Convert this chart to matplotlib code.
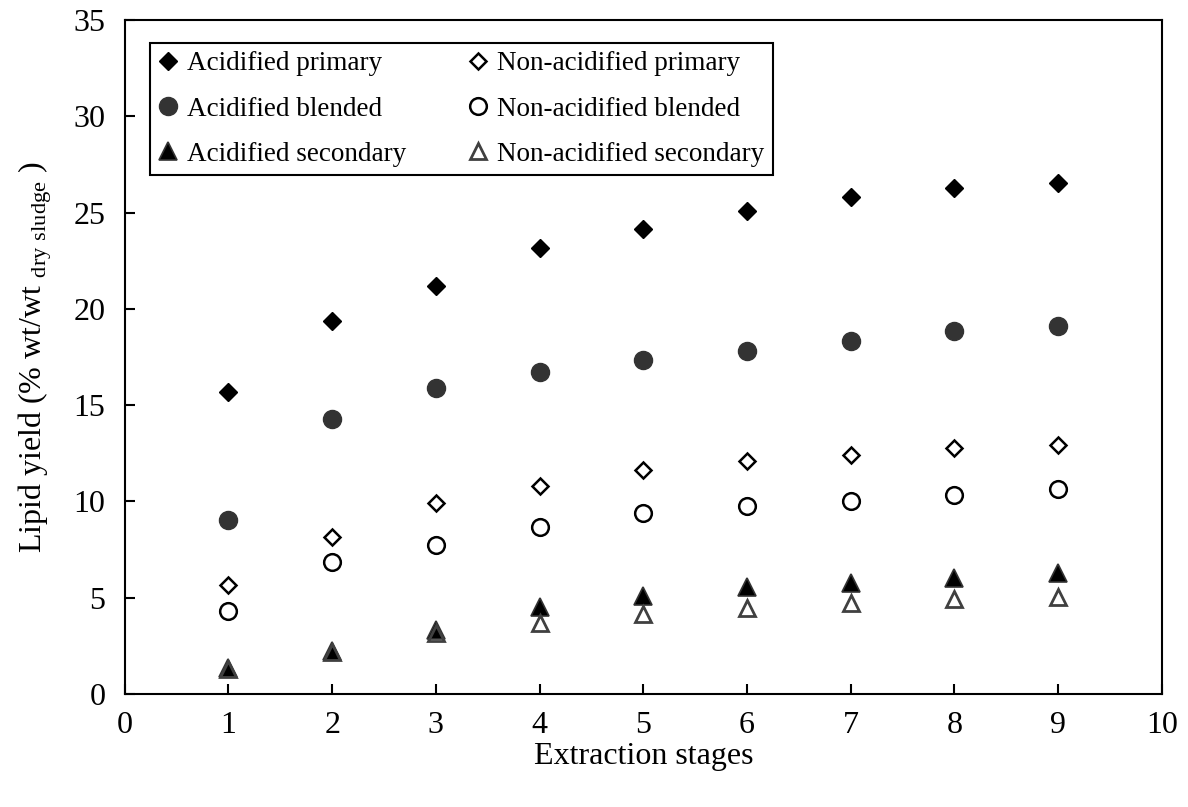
import numpy as np
import matplotlib
matplotlib.use("Agg")
import matplotlib.pyplot as plt

plt.rcParams["font.family"] = ["Liberation Serif", "DejaVu Serif"]
plt.rcParams["mathtext.fontset"] = "custom"
plt.rcParams["mathtext.rm"] = "Liberation Serif"

stages = [1, 2, 3, 4, 5, 6, 7, 8, 9]

acid_primary = [15.7, 19.4, 21.2, 23.15, 24.15, 25.1, 25.8, 26.3, 26.55]
acid_blended = [9.03, 14.27, 15.92, 16.72, 17.36, 17.83, 18.34, 18.83, 19.09]
acid_secondary = [1.35, 2.26, 3.33, 4.54, 5.09, 5.58, 5.78, 6.01, 6.27]
nonacid_primary = [5.66, 8.17, 9.9, 10.79, 11.62, 12.09, 12.43, 12.78, 12.95]
nonacid_blended = [4.33, 6.87, 7.74, 8.68, 9.38, 9.76, 10.02, 10.36, 10.65]
nonacid_secondary = [1.3, 2.2, 3.16, 3.71, 4.16, 4.46, 4.71, 4.92, 5.06]

fig = plt.figure(figsize=(11.88, 8.07), dpi=100)
ax = fig.add_axes([0.105, 0.140, 0.873, 0.835])

# order matters for legend layout (two columns, filled on the left)
ax.plot(stages, acid_primary, "D", ms=9.5, color="black", label="Acidified primary")
ax.plot(stages, acid_blended, "o", ms=13, color="#333333", label="Acidified blended")
ax.plot(stages, acid_secondary, "^", ms=13, mfc="black", mec="#333333", mew=1.2,
        label="Acidified secondary")
ax.plot(stages, nonacid_primary, "D", ms=8.5, mfc="white", mec="black", mew=1.8,
        label="Non-acidified primary")
ax.plot(stages, nonacid_blended, "o", ms=12, mfc="white", mec="black", mew=1.8,
        label="Non-acidified blended")
ax.plot(stages, nonacid_secondary, "^", ms=12, mfc="none", mec="#404040", mew=2,
        label="Non-acidified secondary")

ax.set_xlim(0, 10)
ax.set_ylim(0, 35)
ax.set_xticks(range(0, 11))
ax.set_yticks(range(0, 36, 5))
ax.tick_params(direction="in", length=7, width=1.5, labelsize=23, pad=12)
ax.tick_params(axis="y", pad=14)
for sp in ax.spines.values():
    sp.set_linewidth(1.5)

ax.set_xlabel("Extraction stages", fontsize=23, labelpad=2)
ax.set_ylabel(r"Lipid yield (% wt/wt $_{\mathrm{dry\ sludge}}$ )", fontsize=23, labelpad=14)

leg = ax.legend(loc="upper left", ncol=2, fontsize=19.5, frameon=True, fancybox=False,
                edgecolor="black", framealpha=1, handlelength=0.74, handletextpad=0.33,
                labelspacing=0.75, columnspacing=2.3, borderpad=0.3,
                borderaxespad=0, bbox_to_anchor=(0.024, 0.966))
leg.get_frame().set_linewidth(1.5)

fig.savefig("out.png", dpi=100)
